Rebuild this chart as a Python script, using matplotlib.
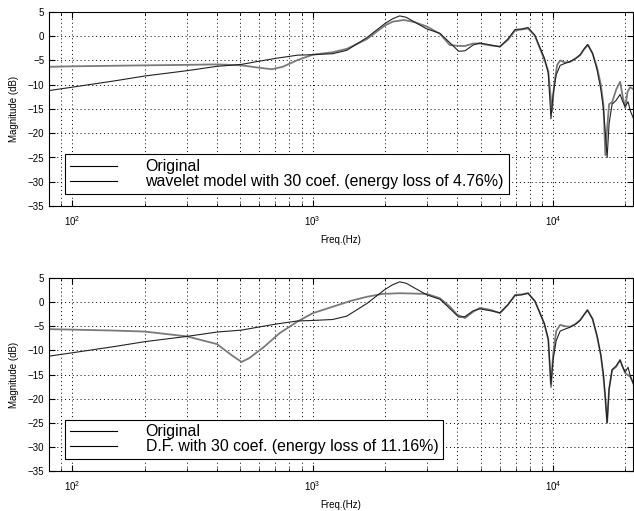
import matplotlib
matplotlib.use("Agg")
import matplotlib.pyplot as plt
from matplotlib.lines import Line2D
from matplotlib.ticker import LogLocator, NullFormatter, MultipleLocator

plt.rcParams['font.family'] = ['Liberation Sans', 'DejaVu Sans']

# Original response (shared by both panels)
f_orig = [80, 100, 150, 200, 300, 400, 506, 590, 714, 866, 1000, 1211, 1386, 1679,
          1995, 2150, 2300, 2450, 2660, 2985, 3383, 3715, 4050, 4300, 4650, 4960,
          5500, 6010, 6500, 6950, 7400, 7870, 8400, 8830, 9200, 9550, 9800, 10000,
          10300, 10700, 11200, 11770, 12400, 12960, 13500, 13900, 14600, 15250,
          15800, 16200, 16500, 16780, 17100, 17600, 18300, 19000, 19500, 19950,
          20500, 21000, 21700]
db_orig = [-11.2, -10.5, -9.2, -8.2, -7.1, -6.2, -5.8, -5.2, -4.5, -3.9, -3.8, -3.6,
           -2.9, -0.3, 2.6, 3.6, 4.2, 3.9, 2.9, 1.5, 0.6, -1.3, -3.1, -3.0, -1.8,
           -1.4, -1.8, -2.2, -0.5, 1.4, 1.5, 1.8, 0.2, -2.4, -4.5, -7.6, -17.0, -12.0,
           -8.0, -6.0, -5.6, -5.2, -4.6, -3.8, -2.5, -1.7, -3.5, -7.0, -11.0, -15.0,
           -20.0, -25.0, -18.0, -14.0, -13.2, -12.0, -13.5, -14.5, -13.5, -15.5, -17.2]

# Wavelet model, 30 coefficients
f_wav = [80, 100, 200, 300, 400, 506, 600, 676, 750, 866, 1000, 1211, 1386, 1679,
         1995, 2150, 2400, 2660, 2985, 3383, 3715, 4050, 4300, 4650, 4960, 5500,
         6010, 6500, 6950, 7400, 7870, 8400, 8830, 9200, 9550, 9900, 10100, 10400,
         10700, 11200, 11770, 12400, 12960, 13500, 14000, 14600, 15250, 15800,
         16200, 16500, 16780, 17100, 17600, 18300, 19000, 19500, 19950, 20400,
         20900, 21700]
db_wav = [-6.3, -6.2, -6.0, -5.9, -5.8, -6.0, -6.5, -6.8, -6.3, -4.9, -3.8, -3.3,
          -2.6, -0.6, 2.2, 3.0, 3.35, 2.9, 2.0, 0.5, -1.8, -2.0, -2.0, -1.5, -1.5,
          -1.9, -2.1, -0.7, 1.2, 1.4, 1.6, 0.1, -2.6, -4.8, -7.2, -15.5, -10.0, -5.9,
          -5.0, -5.4, -5.3, -4.6, -3.9, -2.6, -1.8, -3.6, -6.5, -10.0, -14.2, -24.5,
          -19.0, -14.0, -13.6, -11.0, -9.4, -12.5, -14.8, -11.5, -10.5, -11.0]

# D.F. model, 30 coefficients
f_df = [80, 100, 150, 200, 300, 400, 460, 506, 545, 630, 730, 866, 1000, 1211, 1450,
        1679, 1950, 2300, 2985, 3383, 3715, 3990, 4300, 4650, 4960, 5500, 6010,
        6500, 6950, 7400, 7870, 8400, 8830, 9200, 9550, 9800, 10000, 10300, 10700,
        11200, 11770, 12400, 12960, 13500, 13900, 14600, 15250, 15800, 16200,
        16500, 16780, 17100, 17600, 18300, 19000, 19500, 19950, 21000, 21700]
db_df = [-5.6, -5.7, -5.9, -6.1, -7.1, -8.7, -11.0, -12.4, -11.6, -9.2, -6.4, -4.0,
         -2.3, -0.95, 0.3, 1.1, 1.7, 1.85, 1.7, 0.8, -0.9, -2.6, -3.3, -2.0, -1.2,
         -1.6, -2.3, -0.5, 1.5, 1.6, 1.9, 0.2, -2.3, -4.5, -7.8, -17.6, -11.0, -6.0,
         -4.7, -5.0, -5.1, -4.5, -3.7, -2.5, -1.6, -3.5, -7.2, -11.0, -15.5, -20.0,
         -25.0, -18.0, -14.1, -13.4, -12.0, -13.5, -14.7, -15.5, -17.2]

labels_top = ["Original", "wavelet model with 30 coef. (energy loss of 4.76%)"]
labels_bot = ["Original", "D.F. with 30 coef. (energy loss of 11.16%)"]

fig = plt.figure(figsize=(6.34, 5.11), dpi=100)
W, H = 634.0, 511.0
ax1 = fig.add_axes([49 / W, 1 - 206 / H, 584 / W, 194 / H])
ax2 = fig.add_axes([49 / W, 1 - 471 / H, 584 / W, 193 / H])

panels = [(ax1, f_wav, db_wav, labels_top), (ax2, f_df, db_df, labels_bot)]
for ax, fm, dbm, labels in panels:
    ax.semilogx(fm, dbm, color='#7a7a7a', lw=1.3)
    ax.semilogx(f_orig, db_orig, color='#222222', lw=0.8)
    ax.set_xlim(80, 21500)
    ax.set_ylim(-35, 5)
    ax.yaxis.set_major_locator(MultipleLocator(5))
    ax.xaxis.set_major_locator(LogLocator(base=10))
    ax.xaxis.set_minor_locator(LogLocator(base=10, subs=range(2, 10)))
    ax.xaxis.set_minor_formatter(NullFormatter())
    ax.grid(True, which='both', axis='x', color='black', lw=0.7, linestyle=(0, (1, 3)))
    ax.grid(True, which='major', axis='y', color='black', lw=0.7, linestyle=(0, (1, 3)))
    ax.tick_params(which='both', direction='in', top=True, right=True, labelsize=7)
    ax.tick_params(which='major', length=4)
    ax.tick_params(which='minor', length=2)
    ax.tick_params(axis='x', pad=6)
    ax.set_xlabel("Freq.(Hz)", fontsize=7, labelpad=5)
    ax.set_ylabel("Magnitude (dB)", fontsize=7, labelpad=6)
    for s in ax.spines.values():
        s.set_linewidth(0.8)
    handles = [Line2D([], [], color='black', lw=0.8), Line2D([], [], color='black', lw=0.8)]
    leg = ax.legend(handles, labels, loc='lower left', bbox_to_anchor=(0.027, 0.062),
                    fontsize=11.4, fancybox=False, framealpha=1, edgecolor='black',
                    borderaxespad=0, handlelength=3.0, handletextpad=1.8,
                    labelspacing=0.0, borderpad=0.3)
    leg.get_frame().set_linewidth(0.8)

fig.savefig("out.png", dpi=100)
